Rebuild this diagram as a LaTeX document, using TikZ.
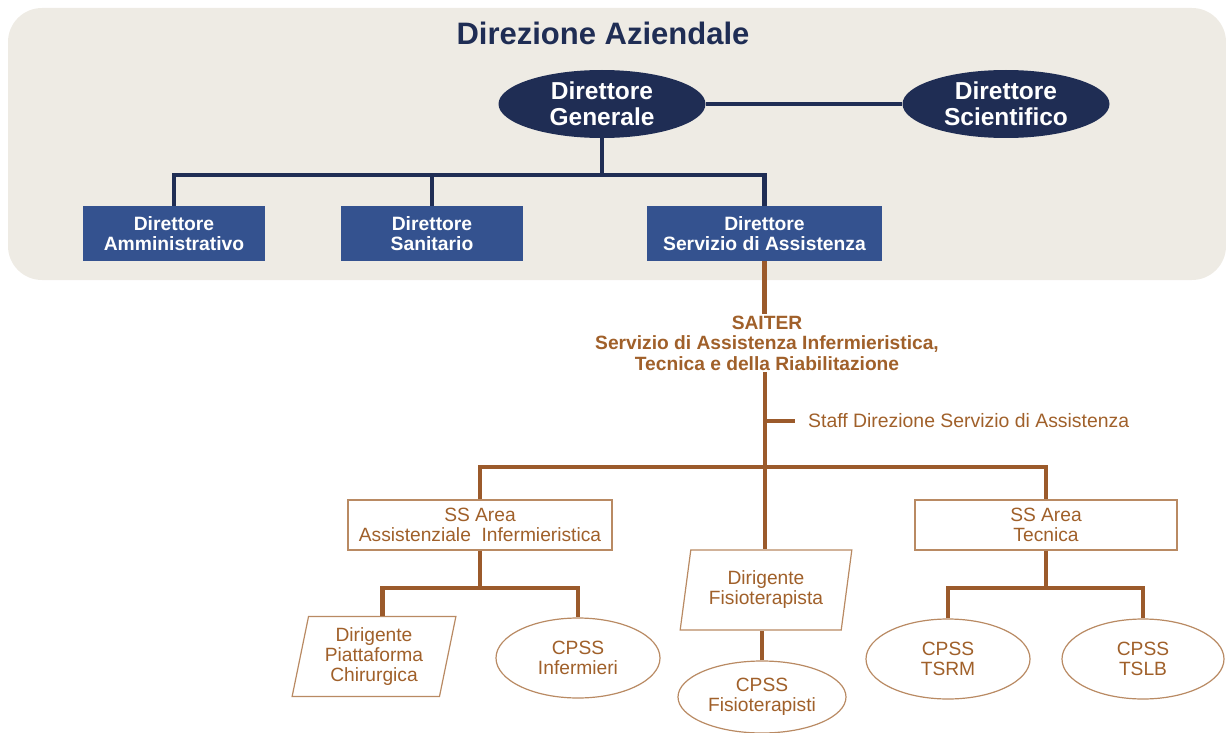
\documentclass[tikz,border=0pt]{standalone}
\usepackage{fontspec}
\setmainfont{Liberation Sans}
\usetikzlibrary{shapes.geometric}

\definecolor{navy}{HTML}{1F2D54}
\definecolor{boxblue}{HTML}{34528F}
\definecolor{bronze}{HTML}{9B5A2B}
\definecolor{bronzetext}{HTML}{A0602A}
\definecolor{bronzeedge}{HTML}{B98A63}
\definecolor{bggrey}{HTML}{EEEBE4}

\begin{document}
\begin{tikzpicture}[x=1pt, y=-1pt,
	dirovale/.style={ellipse, fill=navy, text=white, inner sep=0pt, align=center,
		font=\fontsize{24.5}{26}\selectfont\bfseries, minimum width=207pt, minimum height=68pt},
	dirbox/.style={rectangle, fill=boxblue, text=white, inner sep=0pt, align=center,
		font=\fontsize{19.3}{20}\selectfont\bfseries, minimum height=55pt},
	ssbox/.style={rectangle, draw=bronzeedge, line width=1.2pt, fill=white, text=bronzetext,
		inner sep=0pt, align=center, font=\fontsize{19.2}{20}\selectfont, minimum height=50pt},
	cpss/.style={ellipse, draw=bronzeedge, line width=1.2pt, fill=white, text=bronzetext,
		inner sep=0pt, align=center, font=\fontsize{19.2}{20}\selectfont, minimum height=80pt},
	dirig/.style={trapezium, trapezium left angle=78, trapezium right angle=102, trapezium stretches=true,
		draw=bronzeedge, line width=1.2pt, fill=white, text=bronzetext, inner sep=0pt, align=center,
		font=\fontsize{19.2}{20}\selectfont, minimum height=80pt},
	navyline/.style={draw=navy, line width=4.5pt},
	bronzeline/.style={draw=bronze, line width=4.5pt}]
	\useasboundingbox (0,0) rectangle (1226,733);
	% Background of the management block:
	\fill[bggrey, rounded corners=34pt] (8,8) rectangle (1226,280);
	\node[text=navy, font=\fontsize{31}{33}\selectfont\bfseries] (title) at (603,33) {Direzione Aziendale};
	% Top management:
	\node[dirovale] (dg) at (602,104) {Direttore\\Generale};
	\node[dirovale] (ds) at (1006,104) {Direttore\\Scientifico};
	\node[dirbox, minimum width=182pt] (da) at (174,233.5) {Direttore\\Amministrativo};
	\node[dirbox, minimum width=182pt] (dsan) at (432,233.5) {Direttore\\Sanitario};
	\node[dirbox, minimum width=235pt] (dsa) at (764.5,233.5) {Direttore\\Servizio di Assistenza};
	\coordinate (navyjoin) at (602,175);
	\draw[navyline] (dg) -- (ds);
	\draw[navyline] (dg.south) -- (navyjoin);
	\draw[navyline] (da.north) |- (navyjoin) -| (dsa.north);
	\draw[navyline] (dsan.north) -- (dsan.north |- navyjoin);
	% SAITER:
	\node[text=bronzetext, align=center, inner sep=2pt, font=\fontsize{19.2}{20.5}\selectfont\bfseries] (saiter) at (767,343)
		{SAITER\\Servizio di Assistenza Infermieristica,\\Tecnica e della Riabilitazione};
	\node[text=bronzetext, anchor=west, inner xsep=13pt, inner ysep=0pt, font=\fontsize{19.4}{20}\selectfont] (staff) at (795,421)
		{Staff Direzione Servizio di Assistenza};
	\coordinate (staffjoin) at (765,421);
	\coordinate (bronzejoin) at (765,467);
	\draw[bronzeline] (dsa.south) -- (dsa.south |- saiter.north);
	\draw[bronzeline] (saiter.south -| bronzejoin) -- (bronzejoin);
	\draw[bronzeline] (staffjoin) -- (staff.west);
	% Areas:
	\node[ssbox, minimum width=264pt] (ssai) at (480,525) {SS Area\\Assistenziale\ \ Infermieristica};
	\node[ssbox, minimum width=262pt] (ssat) at (1046,525) {SS Area\\Tecnica};
	\node[dirig, minimum width=172pt] (fis) at (766,590) {Dirigente\\Fisioterapista};
	\draw[bronzeline] (ssai.north) |- (bronzejoin) -| (ssat.north);
	\draw[bronzeline] (bronzejoin) -- (bronzejoin |- fis.north);
	% Units:
	\node[dirig, minimum width=164pt] (dpc) at (374,656.5) {Dirigente\\Piattaforma\\Chirurgica};
	\node[cpss, minimum width=164pt] (cpssinf) at (578,658) {CPSS\\Infermieri};
	\node[cpss, minimum width=168pt, minimum height=72pt] (cpssfis) at (762,697) {CPSS\\Fisioterapisti};
	\node[cpss, minimum width=164pt] (tsrm) at (948,659) {CPSS\\TSRM};
	\node[cpss, minimum width=162pt] (tslb) at (1143,659) {CPSS\\TSLB};
	\coordinate (ssaijoin) at (480,588);
	\coordinate (ssatjoin) at (1046,588);
	\draw[bronzeline] (ssai.south) -- (ssaijoin);
	\draw[bronzeline] (dpc.top side) |- (ssaijoin) -| (cpssinf.north);
	\draw[bronzeline] (ssat.south) -- (ssatjoin);
	\draw[bronzeline] (tsrm.north) |- (ssatjoin) -| (tslb.north);
	\draw[bronzeline] (cpssfis.north) -- (cpssfis.north |- fis.south);
\end{tikzpicture}
\end{document}
